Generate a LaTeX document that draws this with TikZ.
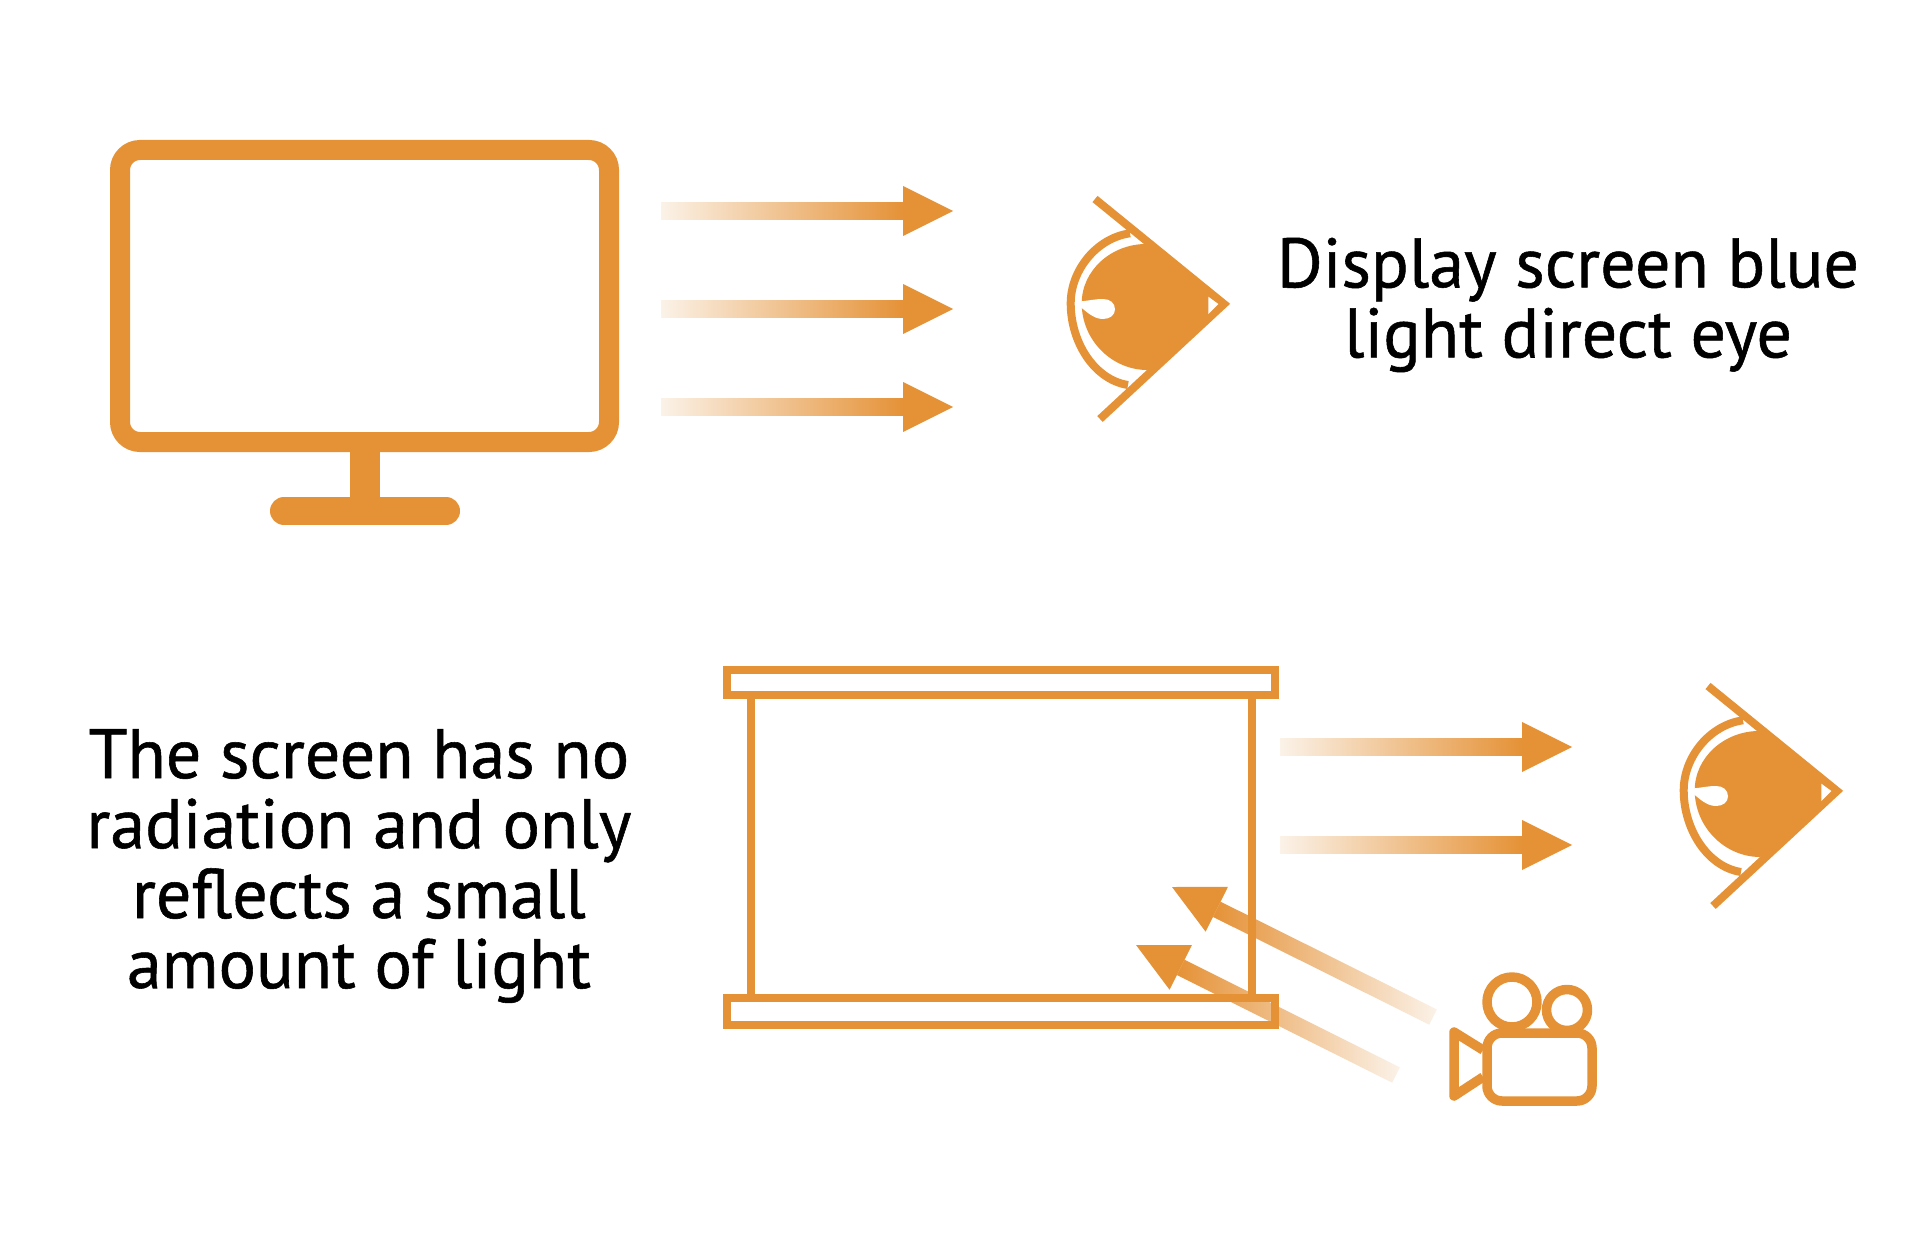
\documentclass[tikz,border=0pt]{standalone}
\usepackage{fontspec}
\setmainfont[FakeBold=0.8]{PT Sans}
\usetikzlibrary{calc}
\definecolor{org}{HTML}{E59237}
\definecolor{pale}{HTML}{FBF2E8}
\tikzset{
  frame/.style={draw=org,line width=8pt,miter limit=10},
  caption/.style={text=black,align=center,font=\fontsize{70}{70}\selectfont,inner sep=0pt},
  camline/.style={draw=org,line width=9.5pt,line join=round},
  fwdshaft/.style={left color=pale,right color=org,rotate=#1},
  revshaft/.style={left color=org,right color=pale,rotate=#1+180}
}
\newcommand{\gradarrow}[4]{%
  \coordinate (#1s) at (#2);
  \coordinate (#1t) at (#3);
  \coordinate (#1b) at ($(#1t)!50pt!(#1s)$);
  \path let \p1=(#1s),\p2=(#1b),\n1={veclen(\x2-\x1,\y2-\y1)},\n2={atan2(\y2-\y1,\x2-\x1)} in
    node[#4=\n2,draw=none,minimum width=\n1,minimum height=17pt,inner sep=0pt,outer sep=0pt] (#1shaft) at ($(#1s)!.5!(#1b)$) {};
  \fill[org] ($(#1b)!25pt!90:(#1t)$) -- (#1t) -- ($(#1b)!25pt!-90:(#1t)$) -- cycle;
}
\newcommand{\eyeicon}{%
  \fill[org] (1146,244) .. controls (1111.7,244) and (1081.7,270) .. (1081.7,303.3)
     .. controls (1081.7,340) and (1111.7,370) .. (1147.3,370) -- (1225,304) -- cycle;
  \draw[org,line width=8pt] (1130,233.3) .. controls (1096.7,238) and (1070.7,270) .. (1070.7,303.3)
     .. controls (1070.7,343) and (1095,380) .. (1128,385);
  \draw[org,line width=8pt,miter limit=10] (1095,199) -- (1224,304) -- (1100,419);
  \fill[white] (1078,301.7) .. controls (1090,300.5) and (1095,299) .. (1103,299)
     .. controls (1110,299) and (1115,303) .. (1115,309.3)
     .. controls (1115,315) and (1110,319) .. (1103,319)
     .. controls (1093,319) and (1086,311) .. (1078,305) -- cycle;
  \fill[white] (1208.3,296.7) -- (1218.3,304) -- (1208.3,314) -- cycle;
}
\begin{document}
\begin{tikzpicture}[x=1pt,y=-1pt]
\useasboundingbox (0,0) rectangle (1920,1260);
\fill[white] (0,0) rectangle (1920,1260);
% monitor
\draw[org,line width=20pt,rounded corners=20pt] (120,150) rectangle (609,442);
\fill[org] (350,450) rectangle (380,500);
\draw[org,line width=28pt,line cap=round] (284,511) -- (446,511);
% top arrows
\gradarrow{a}{661,211}{953,211}{fwdshaft}
\gradarrow{b}{661,309}{953,309}{fwdshaft}
\gradarrow{c}{661,407}{953,407}{fwdshaft}
\eyeicon
\node[caption] (t1) at (1568,305) {Display screen blue\\light direct eye};
% lower arrows
\gradarrow{d}{1280,747}{1572,747}{fwdshaft}
\gradarrow{e}{1280,845}{1572,845}{fwdshaft}
\gradarrow{f}{1433,1017}{1172,887}{revshaft}
\gradarrow{g}{1396,1075}{1136,945}{revshaft}
% projection screen
\draw[frame] (727,670) rectangle (1275,695);
\draw[frame] (727,998) rectangle (1275,1025);
\draw[org,line width=8pt] (751,695) -- (751,998);
\draw[org,line width=8pt] (1252,695) -- (1252,998);
\begin{scope}[shift={(613,487)}]
\eyeicon
\end{scope}
\node[caption] (t2) at (359,866) {The screen has no\\radiation and only\\reflects a small\\amount of light};
% camera
\draw[camline] (1512,1002) circle (25pt);
\draw[camline] (1567,1010) circle (20.5pt);
\draw[camline,fill=white,rounded corners=15pt] (1487,1033) rectangle (1592,1101);
\draw[camline] (1483,1050) -- (1454,1032) -- (1454,1096) -- (1483,1077);
\end{tikzpicture}
\end{document}
